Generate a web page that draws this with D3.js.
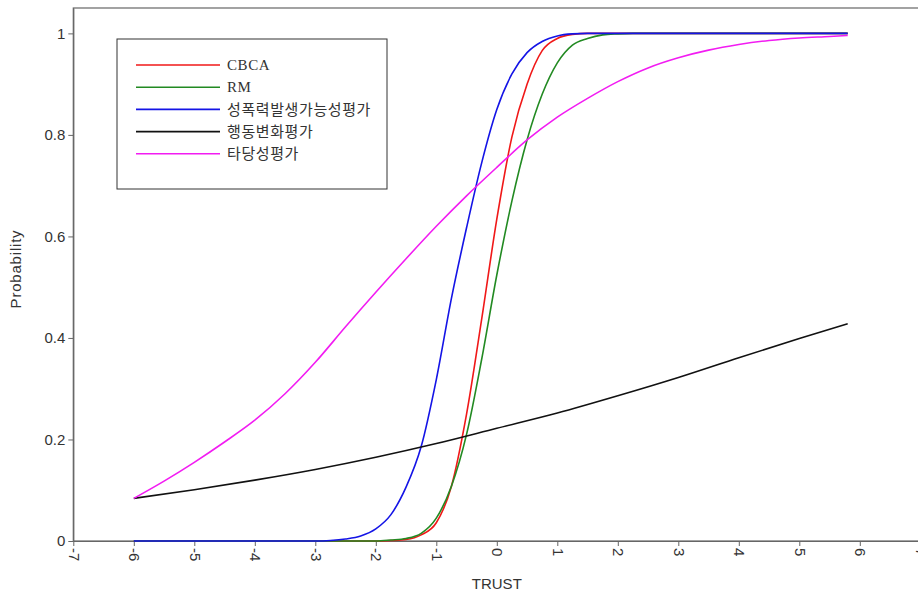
<!DOCTYPE html>
<html>
<head>
<meta charset="utf-8">
<script src="https://cdn.jsdelivr.net/npm/d3@7"></script>
<style>
  body { margin: 0; background: #fff; }
  svg { display: block; }
</style>
</head>
<body>
<div id="chart"></div>
<script>
var width = 918,
    height = 597;

// TRUST values where the steep curves were read
var trustSteep = [-6, -3, -2.75, -2.5, -2.25, -2, -1.75, -1.5, -1.25, -1, -0.75, -0.5, -0.25, 0, 0.25, 0.5, 0.75, 1, 1.25, 1.5, 1.75, 2, 2.25, 5.8];
var cbca = [0, 0, 0, 0, 0, 0, 0.001, 0.003, 0.012, 0.036, 0.108, 0.25, 0.437, 0.634, 0.796, 0.90, 0.966, 0.99, 0.998, 1, 1, 1, 1, 1];
var rm = [0, 0, 0, 0, 0, 0, 0.002, 0.005, 0.015, 0.045, 0.108, 0.21, 0.358, 0.524, 0.67, 0.79, 0.88, 0.942, 0.977, 0.99, 0.997, 0.999, 1, 1];
var sexualViolence = [0, 0, 0.001, 0.004, 0.01, 0.024, 0.052, 0.106, 0.186, 0.318, 0.478, 0.617, 0.745, 0.85, 0.92, 0.962, 0.984, 0.995, 0.999, 1, 1, 1, 1, 1];

// TRUST values for the slow curves
var trustBehavior = [-6, -5, -4, -3, -2, -1, 0, 1, 2, 3, 4, 5, 5.8];
var behavior = [0.084, 0.101, 0.12, 0.141, 0.165, 0.192, 0.222, 0.252, 0.286, 0.322, 0.361, 0.399, 0.428];

var trustValidity = [-6, -5.5, -5, -4.5, -4, -3.5, -3, -2.5, -2, -1.5, -1, -0.5, 0, 0.5, 1, 1.5, 2, 2.5, 3, 3.5, 4, 4.5, 5, 5.5, 5.8];
var validity = [0.084, 0.118, 0.155, 0.195, 0.238, 0.29, 0.352, 0.422, 0.49, 0.556, 0.62, 0.68, 0.736, 0.79, 0.835, 0.872, 0.905, 0.932, 0.952, 0.967, 0.978, 0.986, 0.991, 0.994, 0.996];

var xTicks = [-7, -6, -5, -4, -3, -2, -1, 0, 1, 2, 3, 4, 5, 6, 7];
var yTicks = [0, 0.2, 0.4, 0.6, 0.8, 1];

var seriesNames = ["CBCA", "RM", "성폭력발생가능성평가", "행동변화평가", "타당성평가"];
var seriesColors = ["#f01818", "#228a22", "#1414e6", "#111111", "#f21cf2"];

var series = [
  { name: seriesNames[0], x: trustSteep, y: cbca },
  { name: seriesNames[1], x: trustSteep, y: rm },
  { name: seriesNames[2], x: trustSteep, y: sexualViolence },
  { name: seriesNames[3], x: trustBehavior, y: behavior },
  { name: seriesNames[4], x: trustValidity, y: validity }
];

var color = d3.scaleOrdinal().domain(seriesNames).range(seriesColors);

// plot area edges (the right edge falls just outside the window)
var plotLeft = 73.3, plotRight = 920.3, plotTop = 8, plotBottom = 541;

var x = d3.scaleLinear().domain([-7, 7]).range([plotLeft, plotRight]);
var y = d3.scaleLinear().domain([0, 1.05]).range([plotBottom, plotTop]);

var svg = d3.select("#chart")
  .append("svg")
    .attr("width", width)
    .attr("height", height);

// frame
svg.append("rect")
  .attr("x", plotLeft)
  .attr("y", plotTop)
  .attr("width", plotRight - plotLeft)
  .attr("height", plotBottom - plotTop)
  .attr("fill", "none")
  .attr("stroke", "#666")
  .attr("stroke-width", 1.2);

// x axis
var xAxis = svg.append("g")
  .attr("transform", "translate(0," + plotBottom + ")")
  .call(d3.axisBottom(x).tickValues(xTicks).tickSize(5).tickSizeOuter(0));
xAxis.select(".domain").attr("stroke", "#666").attr("stroke-width", 1.2);
xAxis.selectAll(".tick line").attr("stroke", "#666");
xAxis.selectAll(".tick text")
  .attr("transform", "rotate(90)")
  .attr("x", 7)
  .attr("y", 0)
  .attr("dy", "0.35em")
  .attr("text-anchor", "start")
  .attr("fill", "#333")
  .style("font", "15px 'Liberation Sans', Arial, sans-serif")
  .text(function(d) { return d < 0 ? "-" + Math.abs(d) : d; });

// y axis
var yAxis = svg.append("g")
  .attr("transform", "translate(" + plotLeft + ",0)")
  .call(d3.axisLeft(y).tickValues(yTicks).tickSize(5).tickSizeOuter(0).tickFormat(function(d) { return String(d); }));
yAxis.select(".domain").attr("stroke", "#666").attr("stroke-width", 1.2);
yAxis.selectAll(".tick line").attr("stroke", "#666");
yAxis.selectAll(".tick text")
  .attr("x", -8)
  .attr("fill", "#333")
  .style("font", "15px 'Liberation Sans', Arial, sans-serif");

// axis titles
svg.append("text")
  .attr("x", x(0))
  .attr("y", 589)
  .attr("text-anchor", "middle")
  .attr("fill", "#333")
  .style("font", "15px 'Liberation Sans', Arial, sans-serif")
  .text("TRUST");

svg.append("text")
  .attr("transform", "translate(21,269) rotate(-90)")
  .attr("text-anchor", "middle")
  .attr("fill", "#333")
  .style("font", "15px 'Liberation Sans', Arial, sans-serif")
  .style("letter-spacing", "0.8px")
  .text("Probability");

// curves
var line = d3.line()
  .x(function(d) { return x(d[0]); })
  .y(function(d) { return y(d[1]); })
  .curve(d3.curveMonotoneX);

svg.selectAll("path.curve")
  .data(series)
  .enter()
  .append("path")
    .attr("class", "curve")
    .attr("d", function(s) { return line(s.x.map(function(v, i) { return [v, s.y[i]]; })); })
    .attr("fill", "none")
    .attr("stroke", function(s) { return color(s.name); })
    .attr("stroke-width", 1.6);

// legend
var legend = svg.append("g");
legend.append("rect")
  .attr("x", 117)
  .attr("y", 39)
  .attr("width", 270)
  .attr("height", 150)
  .attr("fill", "#fff")
  .attr("stroke", "#333")
  .attr("stroke-width", 1);

var items = legend.selectAll("g.item")
  .data(seriesNames)
  .enter()
  .append("g")
    .attr("class", "item")
    .attr("transform", function(d, i) { return "translate(0," + (65 + i * 22.2) + ")"; });

items.append("line")
  .attr("x1", 136)
  .attr("x2", 220)
  .attr("stroke", function(d) { return color(d); })
  .attr("stroke-width", 1.6);

items.append("text")
  .attr("x", 227)
  .attr("dy", "0.35em")
  .attr("fill", "#333")
  .style("font", "15px 'Liberation Serif', 'Noto Sans CJK KR', serif")
  .style("letter-spacing", "0.6px")
  .text(function(d) { return d; });
</script>
</body>
</html>
